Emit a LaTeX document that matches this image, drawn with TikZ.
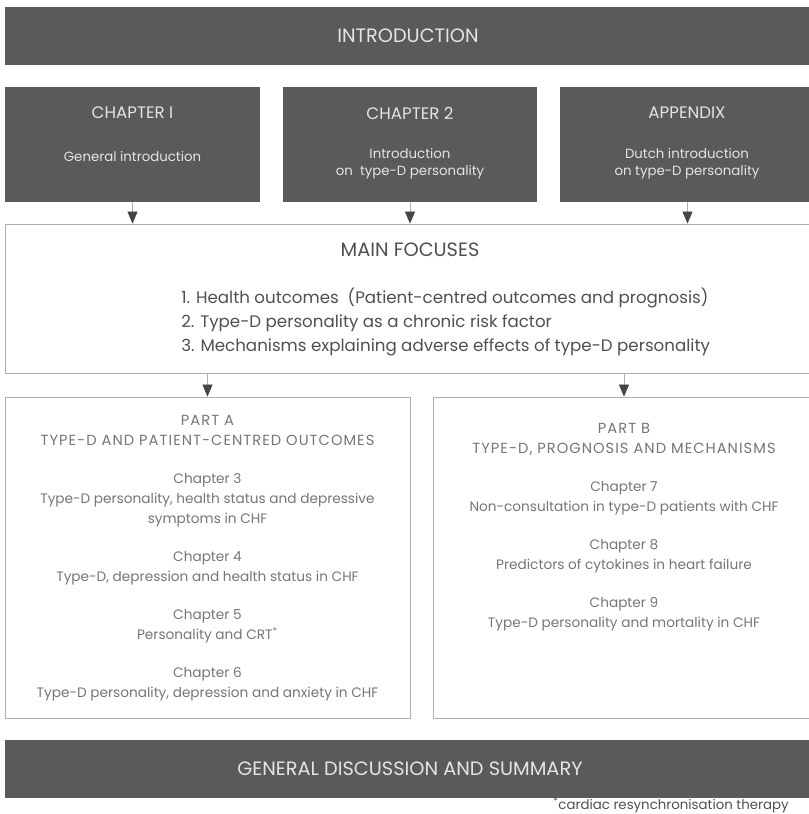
\documentclass[tikz,border=0pt]{standalone}
\usepackage{fontspec}
\setmainfont{Poppins}
\newfontfamily\capsfont{Poppins}[LetterSpace=7]
\usetikzlibrary{positioning,arrows.meta}
\definecolor{boxgrey}{RGB}{90,90,90}
\definecolor{boxtext}{RGB}{228,228,228}
\definecolor{linegrey}{RGB}{175,175,175}
\definecolor{tipgrey}{RGB}{70,70,70}
\definecolor{focustext}{RGB}{80,80,80}
\definecolor{parttext}{RGB}{118,118,118}
\newcommand{\parthead}[1]{{\capsfont\fontsize{11}{15}\selectfont #1}}

\begin{document}
\begin{tikzpicture}[x=0.75pt,y=-0.75pt,
  dark/.style={fill=boxgrey,inner sep=0pt},
  light/.style={draw=linegrey,line width=0.6pt,fill=white,inner sep=0pt},
  head/.style={text=boxtext,font=\fontsize{14.5}{16}\selectfont},
  title/.style={text=boxtext,font=\fontsize{12.5}{14}\selectfont},
  sub/.style={text=boxtext,align=center,font=\fontsize{10}{12.75}\selectfont},
  parttxt/.style={text=parttext,align=center,anchor=north,inner sep=0pt,font=\fontsize{10.25}{15}\selectfont},
  arr/.style={-{Triangle[width=7.5pt,length=9pt,color=tipgrey]},draw=linegrey,line width=0.5pt}]
  \useasboundingbox[fill=white] (0,0) rectangle (808,814);

  % top row
  \node[dark,minimum width=607.5pt,minimum height=43.5pt] (intro) at (410,36) {};
  \node[head] (introtxt) at (408,36) {INTRODUCTION};

  \node[dark,minimum width=191.25pt,minimum height=86.25pt] (ch1) at (132.5,144.5) {};
  \node[dark,minimum width=190.5pt,minimum height=86.25pt] (ch2) at (410,144.5) {};
  \node[dark,minimum width=191.25pt,minimum height=86.25pt] (app) at (687.5,144.5) {};
  \node[title] (ch1t) at (132.5,113) {CHAPTER I};
  \node[title] (ch2t) at (410,113) {CHAPTER 2};
  \node[title] (appt) at (687,113) {APPENDIX};
  \node[sub] (ch1s) at (132.5,156) {General introduction};
  \node[sub] (ch2s) at (410,163.5) {Introduction\\on~~type-D personality};
  \node[sub] (apps) at (687,163.5) {Dutch introduction\\on type-D personality};

  % main focuses
  \node[light,minimum width=607.5pt,minimum height=111.75pt] (focus) at (410,298.5) {};
  \node[text=focustext,font=\fontsize{14.5}{16}\selectfont] (focust) at (410,250) {MAIN FOCUSES};
  \node[text=focustext,align=left,anchor=west,inner sep=0pt,font=\fontsize{12.5}{18}\selectfont] (focusl) at (181,322)
    {1. Health outcomes~~(Patient-centred outcomes and prognosis)\\
     2. Type-D personality as a chronic risk factor\\
     3. Mechanisms explaining adverse effects of type-D personality};

  \draw[arr] (ch1.south) -- (ch1.south |- focus.north);
  \draw[arr] (ch2.south) -- (ch2.south |- focus.north);
  \draw[arr] (app.south) -- (app.south |- focus.north);

  % parts
  \node[light,minimum width=303.75pt,minimum height=240.75pt] (partA) at (207.5,557.5) {};
  \node[light,minimum width=286.5pt,minimum height=240.75pt] (partB) at (624,557.5) {};
  \node[parttxt] (partAt) at (207.5,415)
    {\parthead{PART A}\\\parthead{TYPE-D AND PATIENT-CENTRED OUTCOMES}\\[13.5pt]
     Chapter 3\\Type-D personality, health status and depressive\\symptoms in CHF\\[13.5pt]
     Chapter 4\\Type-D, depression and health status in CHF\\[13.5pt]
     Chapter 5\\Personality and CRT\textsuperscript{*}\\[13.5pt]
     Chapter 6\\Type-D personality, depression and anxiety in CHF};
  \node[parttxt] (partBt) at (624,423)
    {\parthead{PART B}\\\parthead{TYPE-D, PROGNOSIS AND MECHANISMS}\\[13.5pt]
     Chapter 7\\Non-consultation in type-D patients with CHF\\[13.5pt]
     Chapter 8\\Predictors of cytokines in heart failure\\[13.5pt]
     Chapter 9\\Type-D personality and mortality in CHF};

  \draw[arr] (focus.south -| partA.north) -- (partA.north);
  \draw[arr] (focus.south -| partB.north) -- (partB.north);

  % bottom
  \node[dark,minimum width=607.5pt,minimum height=43.5pt] (disc) at (410,769) {};
  \node[head] (disct) at (410,769) {GENERAL DISCUSSION AND SUMMARY};
  \node[text=focustext,anchor=west,inner sep=0pt,font=\fontsize{10}{12}\selectfont] (note) at (553,805)
    {\textsuperscript{*}cardiac resynchronisation therapy};
\end{tikzpicture}
\end{document}
